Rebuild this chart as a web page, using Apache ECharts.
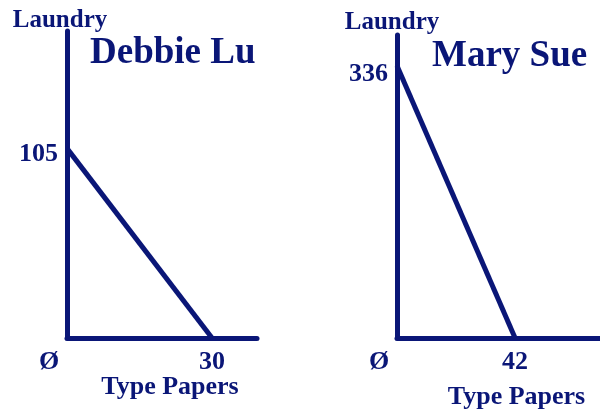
<!DOCTYPE html>
<html>
<head>
<meta charset="utf-8">
<script src="https://cdn.jsdelivr.net/npm/echarts@6/dist/echarts.min.js"></script>
<style>
  html, body { margin: 0; padding: 0; background: #fff; }
  #main { width: 600px; height: 409px; }
</style>
</head>
<body>
<div id="main"></div>
<script>
// data
var people = ['Debbie Lu', 'Mary Sue'];
var laundryMax = [105, 336];     // laundry if no papers typed
var papersMax = [30, 42];        // papers if no laundry done
var xLabel = 'Type Papers';
var yLabel = 'Laundry';

var navy = '#0a1677';
var font = "'Liberation Serif', 'Times New Roman', serif";

var myChart = echarts.init(document.getElementById('main'));

// layout for the two panels
var grids = [
    { left: 67, top: 31, width: 190, height: 307, outerBoundsMode: 'none', containLabel: false },
    { left: 397, top: 35, width: 203, height: 303, outerBoundsMode: 'none', containLabel: false }
];
var xMax = [39.3, 72.2];
var yMax = [170, 374];
var nameGapX = [36, 46];
var namePadX = [[0, 0, 0, 16], [0, 0, 0, 36]];
var namePadY = [[0, 14, 0, 0], [0, 10, 0, 0]];
var nameGapY = [-2, 0];
var titlePos = [[85, 30], [427, 33]];

var axisLine = {
    show: true,
    onZero: false,
    lineStyle: { color: navy, width: 5, cap: 'round' }
};

var xAxes = [], yAxes = [], series = [], titles = [];
for (var i = 0; i < people.length; i++) {
    titles.push({
        text: people[i],
        left: titlePos[i][0],
        top: titlePos[i][1],
        textStyle: { color: navy, fontFamily: font, fontWeight: 'bold', fontSize: 37 }
    });
    xAxes.push({
        gridIndex: i,
        type: 'value',
        min: 0,
        max: xMax[i],
        axisLine: axisLine,
        axisTick: { show: false },
        splitLine: { show: false },
        name: xLabel,
        nameLocation: 'middle',
        nameGap: nameGapX[i],
        nameMoveOverlap: false,
        nameTextStyle: {
            color: navy, fontFamily: font, fontWeight: 'bold', fontSize: 26,
            padding: namePadX[i]
        },
        axisLabel: {
            customValues: [0, papersMax[i]],
            margin: 11,
            color: navy,
            fontFamily: font,
            fontWeight: 'bold',
            fontSize: 26,
            formatter: function (v) {
                return v === 0 ? '{o|\u00d8}' : String(v);
            },
            rich: {
                o: {
                    color: navy, fontFamily: font, fontWeight: 'bold', fontSize: 26,
                    padding: [0, 36, 0, 0]
                }
            }
        }
    });
    yAxes.push({
        gridIndex: i,
        type: 'value',
        min: 0,
        max: yMax[i],
        axisLine: axisLine,
        axisTick: { show: false },
        splitLine: { show: false },
        name: yLabel,
        nameLocation: 'end',
        nameGap: nameGapY[i],
        nameMoveOverlap: false,
        nameTextStyle: {
            color: navy, fontFamily: font, fontWeight: 'bold', fontSize: 25,
            padding: namePadY[i]
        },
        axisLabel: {
            customValues: [laundryMax[i]],
            margin: 9,
            formatter: function (v) {
                return '{n|' + v + '}';
            },
            rich: {
                n: {
                    color: navy, fontFamily: font, fontWeight: 'bold', fontSize: 26,
                    padding: [i === 0 ? 12 : 16, 0, 0, 0]
                }
            }
        }
    });
    series.push({
        type: 'line',
        xAxisIndex: i,
        yAxisIndex: i,
        symbol: 'none',
        lineStyle: { color: navy, width: 5 },
        data: [[0, laundryMax[i]], [papersMax[i], 0]]
    });
}

var option = {
    animation: false,
    backgroundColor: '#ffffff',
    title: titles,
    grid: grids,
    xAxis: xAxes,
    yAxis: yAxes,
    series: series
};
myChart.setOption(option);
</script>
</body>
</html>
